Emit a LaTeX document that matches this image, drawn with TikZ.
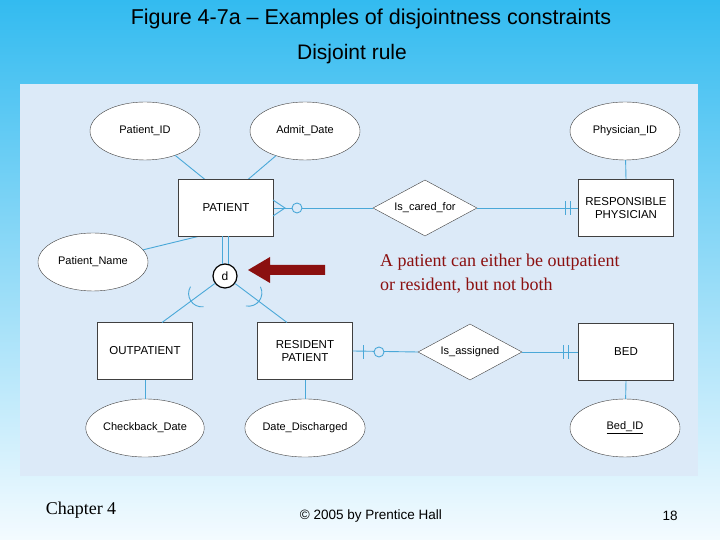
\documentclass[tikz,border=0pt]{standalone}
\usepackage{fontspec}
\setmainfont{Liberation Sans}
\newfontfamily\serifrm{Liberation Serif}
\usetikzlibrary{shapes.geometric,arrows.meta,calc}
\definecolor{ln}{HTML}{4AA8D8}
\definecolor{panel}{HTML}{DCEAF8}
\definecolor{dred}{HTML}{8B1010}
\definecolor{bgtop}{HTML}{33BBF0}
\definecolor{bgbot}{HTML}{F4FBFF}
\begin{document}
\begin{tikzpicture}[x=1pt,y=1pt,
  ent/.style={draw=black!75,fill=white,minimum width=95pt,minimum height=57pt,font=\fontsize{11.5}{13}\selectfont,align=center,inner sep=1pt},
  att/.style={ellipse,draw=black!75,fill=white,minimum width=110pt,minimum height=58pt,font=\fontsize{11}{12}\selectfont,inner sep=0pt},
  rel/.style={diamond,draw=black!75,fill=white,minimum width=104pt,minimum height=56pt,aspect=1.9,font=\fontsize{11}{12}\selectfont,inner sep=0pt},
  cn/.style={draw=ln,line width=0.9pt}]
\shade[top color=bgtop,bottom color=bgbot] (0,0) rectangle (720,540);
\useasboundingbox (0,0) rectangle (720,540);
\fill[panel] (20,64) rectangle (698,456);
\node (title) at (371,521) {\fontsize{21.5}{24}\selectfont Figure 4-7a -- Examples of disjointness constraints};
\node (sub) at (352,486) {\fontsize{21}{24}\selectfont Disjoint rule};
% attributes
\node[att] (pid) at (145,409) {Patient\_ID};
\node[att] (adate) at (305,409) {Admit\_Date};
\node[att] (phid) at (625,409) {Physician\_ID};
\node[att] (pname) at (93,278) {Patient\_Name};
\node[att] (cdate) at (145,112) {Checkback\_Date};
\node[att] (ddate) at (305,112) {Date\_Discharged};
\node[att] (bid) at (625,112) {\underline{Bed\_ID}};
% connectors first
\coordinate (pt1) at (205,360.5);
\coordinate (pt2) at (248,360.5);
\coordinate (pb) at (198,303.5);
\draw[cn] (pid) -- (pt1);
\draw[cn] (adate) -- (pt2);
\draw[cn] (pname) -- (pb);
\draw[cn] (phid) -- (626,360.5);
\draw[cn] (bid) -- (626,159.5);
\draw[cn] (cdate) -- (145,160.5);
\draw[cn] (ddate) -- (305,160.5);
% entities
\node[ent] (pat) at (226,332) {PATIENT};
\node[ent] (resp) at (626,332) {RESPONSIBLE\\PHYSICIAN};
\node[ent] (out) at (145,189) {OUTPATIENT};
\node[ent] (res) at (305,189) {RESIDENT\\PATIENT};
\node[ent] (bed) at (626,188) {BED};
\node[rel] (care) at (425,332) {Is\_cared\_for};
\node[rel] (asg) at (470,188) {Is\_assigned};
\node[circle,draw=black,line width=1.2pt,fill=white,minimum size=24pt,inner sep=0pt,font=\fontsize{12}{13}\selectfont] (d) at (225,264) {d};
% relationships
\draw[cn] (pat.east) -- (care.west);
\draw[cn] (273,340) -- (285,332) -- (273,324);
\draw[cn,fill=panel] (297,332) circle (5);
\draw[cn] (care.east) -- (resp.west);
\draw[cn] (565,325) -- (565,339) (570,325) -- (570,339);
\draw[cn] (res.east) -- (asg.west);
\draw[cn,fill=panel] (379,188) circle (5);
\draw[cn] (363,181) -- (363,195);
\draw[cn] (asg.east) -- (bed.west);
\draw[cn] (563,181) -- (563,195) (568,181) -- (568,195);
% subtype lines
\draw[cn] (222.5,303.5) -- (222.5,276) (228.5,303.5) -- (228.5,276);
\draw[cn] (d) -- (162,217.5);
\draw[cn] (d) -- (287,217.5);
\draw[cn,shift={(192,240)},rotate=213] (-6,-12) .. controls (4,-7) and (4,7) .. (-6,12);
\draw[cn,shift={(258,240)},rotate=-37] (-6,-12) .. controls (4,-7) and (4,7) .. (-6,12);
% arrow
\fill[dred] (325,275) -- (270,275) -- (270,283) -- (248,270) -- (270,257) -- (270,265) -- (325,265) -- cycle;
\node[anchor=north west,align=left,text=dred,font=\serifrm\fontsize{18}{24}\selectfont,inner sep=0pt] (note) at (380,286) {A patient can either be outpatient\\or resident, but not both};
% footer
\node[font=\serifrm\fontsize{18}{20}\selectfont] (ch) at (81,30) {Chapter 4};
\node[font=\fontsize{13.5}{15}\selectfont] (cp) at (371,24) {© 2005 by Prentice Hall};
\node[font=\fontsize{13.5}{15}\selectfont] (pg) at (670,24) {18};
\end{tikzpicture}
\end{document}
